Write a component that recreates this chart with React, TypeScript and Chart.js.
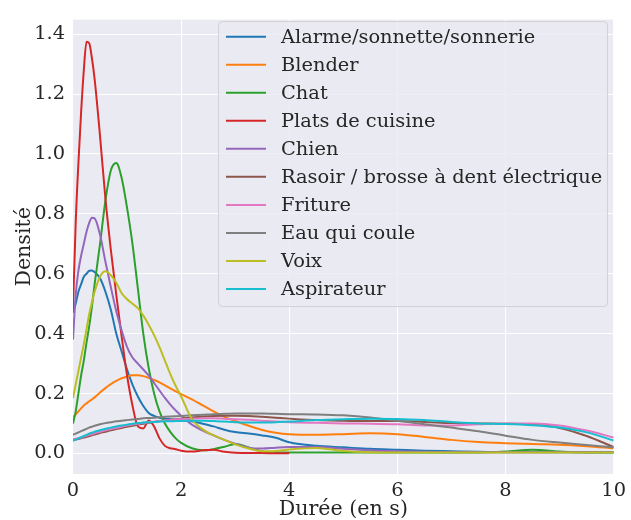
import React, { useEffect, useRef } from "react";
import { Chart, registerables } from "chart.js";

Chart.register(...registerables);

// Durée (s) sample grid shared by every density curve
const durations = [
  0, 0.05, 0.1, 0.15, 0.2, 0.25, 0.3, 0.35, 0.4, 0.5, 0.6, 0.7, 0.8, 0.9, 1.0,
  1.1, 1.2, 1.3, 1.4, 1.5, 1.6, 1.7, 1.8, 1.9, 2.0, 2.2, 2.4, 2.6, 2.8, 3.0,
  3.25, 3.5, 3.75, 4.0, 4.5, 5.0, 5.5, 6.0, 6.5, 7.0, 7.5, 8.0, 8.5, 9.0, 9.5, 10.0,
];

const alarme = [
  0.47, 0.5, 0.54, 0.565, 0.59, 0.6, 0.61, 0.611, 0.605, 0.585, 0.54, 0.48, 0.4,
  0.34, 0.28, 0.23, 0.19, 0.158, 0.135, 0.125, 0.119, 0.116, 0.114, 0.112, 0.11,
  0.107, 0.099, 0.09, 0.079, 0.071, 0.066, 0.06, 0.052, 0.037, 0.025, 0.02, 0.015,
  0.012, 0.009, 0.007, 0.005, 0.004, 0.004, 0.004, 0.004, 0.004,
];
const blender = [
  0.12, 0.13, 0.14, 0.15, 0.16, 0.167, 0.174, 0.18, 0.187, 0.203, 0.218, 0.231,
  0.242, 0.251, 0.257, 0.261, 0.261, 0.258, 0.252, 0.245, 0.237, 0.227, 0.217,
  0.207, 0.198, 0.18, 0.16, 0.14, 0.122, 0.108, 0.092, 0.078, 0.069, 0.064, 0.062,
  0.064, 0.067, 0.064, 0.055, 0.045, 0.038, 0.034, 0.031, 0.029, 0.024, 0.017,
];
const chat = [
  0.1, 0.14, 0.2, 0.26, 0.31, 0.37, 0.425, 0.49, 0.565, 0.7, 0.845, 0.945, 0.97,
  0.92, 0.82, 0.7, 0.55, 0.4, 0.285, 0.2, 0.14, 0.1, 0.072, 0.05, 0.035, 0.017,
  0.01, 0.014, 0.022, 0.031, 0.02, 0.006, 0.003, 0.003, 0.003, 0.003, 0.003,
  0.003, 0.003, 0.003, 0.003, 0.006, 0.012, 0.006, 0.003, 0.003,
];
const plats = [
  0.48, 0.77, 0.97, 1.14, 1.28, 1.375, 1.37, 1.32, 1.25, 1.06, 0.85, 0.68, 0.53,
  0.39, 0.26, 0.16, 0.09, 0.083, 0.11, 0.09, 0.05, 0.025, 0.017, 0.014, 0.009,
  0.006, 0.01, 0.012, 0.005, 0.002, 0.001, 0.001, 0.0, 0.0,
  null, null, null, null, null, null, null, null, null, null, null, null,
];
const chien = [
  0.38, 0.53, 0.61, 0.66, 0.7, 0.74, 0.77, 0.787, 0.785, 0.73, 0.64, 0.555,
  0.475, 0.41, 0.355, 0.32, 0.3, 0.28, 0.26, 0.235, 0.21, 0.185, 0.163, 0.143,
  0.126, 0.096, 0.076, 0.06, 0.045, 0.032, 0.019, 0.016, 0.019, 0.021, 0.021,
  0.015, 0.01, 0.007, 0.005, 0.004, 0.004, 0.004, 0.004, 0.004, 0.004, 0.004,
];
const rasoir = [
  0.044, 0.046, 0.048, 0.05, 0.053, 0.055, 0.058, 0.06, 0.063, 0.068, 0.072,
  0.077, 0.081, 0.085, 0.089, 0.092, 0.096, 0.099, 0.102, 0.105, 0.107, 0.11,
  0.112, 0.114, 0.116, 0.12, 0.123, 0.125, 0.126, 0.126, 0.125, 0.122, 0.119,
  0.116, 0.111, 0.109, 0.108, 0.108, 0.105, 0.101, 0.1, 0.099, 0.096, 0.085,
  0.058, 0.021,
];
const friture = [
  0.047, 0.049, 0.05, 0.053, 0.056, 0.059, 0.062, 0.064, 0.067, 0.072, 0.077,
  0.081, 0.085, 0.089, 0.093, 0.096, 0.099, 0.102, 0.104, 0.106, 0.108, 0.11,
  0.111, 0.113, 0.114, 0.116, 0.117, 0.117, 0.116, 0.114, 0.112, 0.109, 0.106,
  0.104, 0.102, 0.1, 0.099, 0.097, 0.093, 0.093, 0.097, 0.1, 0.1, 0.093, 0.076,
  0.053,
];
const eau = [
  0.062, 0.066, 0.07, 0.074, 0.078, 0.082, 0.086, 0.089, 0.092, 0.097, 0.101,
  0.104, 0.107, 0.109, 0.111, 0.113, 0.115, 0.117, 0.118, 0.119, 0.121, 0.122,
  0.123, 0.124, 0.125, 0.127, 0.129, 0.131, 0.132, 0.133, 0.133, 0.133, 0.132,
  0.131, 0.13, 0.127, 0.12, 0.109, 0.097, 0.086, 0.074, 0.059, 0.045, 0.036,
  0.028, 0.02,
];
const voix = [
  0.185, 0.23, 0.275, 0.32, 0.365, 0.415, 0.465, 0.505, 0.54, 0.59, 0.608, 0.595,
  0.57, 0.535, 0.515, 0.5, 0.485, 0.46, 0.43, 0.395, 0.355, 0.31, 0.265, 0.225,
  0.19, 0.114, 0.08, 0.06, 0.045, 0.03, 0.016, 0.007, 0.008, 0.013, 0.018, 0.008,
  0.004, 0.003, 0.003, 0.003, 0.003, 0.003, 0.003, 0.003, 0.003, 0.003,
];
const aspirateur = [
  0.042, 0.046, 0.05, 0.054, 0.058, 0.062, 0.066, 0.069, 0.072, 0.077, 0.082,
  0.086, 0.09, 0.093, 0.096, 0.099, 0.101, 0.103, 0.104, 0.105, 0.106, 0.107,
  0.107, 0.108, 0.108, 0.109, 0.109, 0.108, 0.106, 0.104, 0.103, 0.103, 0.104,
  0.106, 0.111, 0.114, 0.116, 0.115, 0.111, 0.105, 0.1, 0.098, 0.094, 0.086,
  0.07, 0.043,
];

const seriesLabels = [
  "Alarme/sonnette/sonnerie",
  "Blender",
  "Chat",
  "Plats de cuisine",
  "Chien",
  "Rasoir / brosse à dent électrique",
  "Friture",
  "Eau qui coule",
  "Voix",
  "Aspirateur",
];
const seriesValues = [alarme, blender, chat, plats, chien, rasoir, friture, eau, voix, aspirateur];
const seriesColors = [
  "#1f77b4", "#ff7f0e", "#2ca02c", "#d62728", "#9467bd",
  "#8c564b", "#e377c2", "#7f7f7f", "#bcbd22", "#17becf",
];

const xTicks = [0, 2, 4, 6, 8, 10];
const yTicks = [0, 0.2, 0.4, 0.6, 0.8, 1.0, 1.2, 1.4];

const FONT = "'DejaVu Serif', serif";
const TEXT = "#262626";
const TICK_SIZE = 19.4;
const LABEL_SIZE = 20.6;

const bgPlugin = {
  id: "axesBg",
  beforeDraw(chart: any) {
    const { ctx, chartArea } = chart;
    ctx.save();
    ctx.fillStyle = "#EAEAF2";
    ctx.fillRect(chartArea.left, chartArea.top, chartArea.right - chartArea.left, chartArea.bottom - chartArea.top);
    ctx.restore();
  },
};

const legendPlugin = {
  id: "boxLegend",
  afterDraw(chart: any) {
    const ctx = chart.ctx;
    const x0 = 218.5, y0 = 21.5, w = 389, h = 285, r = 4;
    ctx.save();
    ctx.beginPath();
    ctx.moveTo(x0 + r, y0);
    ctx.lineTo(x0 + w - r, y0);
    ctx.arcTo(x0 + w, y0, x0 + w, y0 + r, r);
    ctx.lineTo(x0 + w, y0 + h - r);
    ctx.arcTo(x0 + w, y0 + h, x0 + w - r, y0 + h, r);
    ctx.lineTo(x0 + r, y0 + h);
    ctx.arcTo(x0, y0 + h, x0, y0 + h - r, r);
    ctx.lineTo(x0, y0 + r);
    ctx.arcTo(x0, y0, x0 + r, y0, r);
    ctx.closePath();
    ctx.fillStyle = "rgba(234,234,242,0.8)";
    ctx.fill();
    ctx.strokeStyle = "rgba(204,204,204,0.8)";
    ctx.lineWidth = 1;
    ctx.stroke();
    ctx.font = `${TICK_SIZE}px ${FONT}`;
    ctx.textBaseline = "middle";
    ctx.textAlign = "left";
    chart.data.datasets.forEach((ds: any, i: number) => {
      const y = 36.7 + i * 28.03;
      ctx.beginPath();
      ctx.strokeStyle = ds.borderColor;
      ctx.lineWidth = 2;
      ctx.moveTo(226, y);
      ctx.lineTo(266, y);
      ctx.stroke();
      ctx.fillStyle = TEXT;
      ctx.fillText(ds.label, 281, y + 1);
    });
    ctx.restore();
  },
};

export default function App() {
  const ref = useRef<HTMLCanvasElement | null>(null);
  useEffect(() => {
    if (!ref.current) return;
    const datasets = seriesLabels.map((label, i) => ({
      label,
      data: durations
        .map((x, j) => ({ x, y: seriesValues[i][j] }))
        .filter((p) => p.y !== null && p.y !== undefined),
      borderColor: seriesColors[i],
      backgroundColor: seriesColors[i],
      borderWidth: 2,
      pointRadius: 0,
      fill: false,
      cubicInterpolationMode: "monotone" as const,
      order: seriesLabels.length - i,
    }));
    const chart = new Chart(ref.current, {
      type: "line",
      data: { datasets },
      options: {
        animation: false,
        responsive: false,
        devicePixelRatio: 1,
        layout: { padding: { left: 0, right: 14, top: 11, bottom: 0 } },
        plugins: { legend: { display: false }, tooltip: { enabled: false } },
        scales: {
          x: {
            type: "linear",
            min: 0,
            max: 10,
            afterBuildTicks: (s: any) => {
              s.ticks = xTicks.map((v) => ({ value: v }));
            },
            afterFit: (s: any) => {
              s.height = 46;
            },
            ticks: {
              font: { family: FONT, size: TICK_SIZE },
              color: TEXT,
              padding: 5,
              callback: (v: any) => String(v),
            },
            grid: { color: "#ffffff", lineWidth: 1.1, drawTicks: false },
            border: { display: false },
            title: {
              display: true,
              text: "Durée (en s)",
              font: { family: FONT, size: LABEL_SIZE },
              color: TEXT,
              padding: { top: 0, bottom: -2 },
            },
          },
          y: {
            type: "linear",
            min: -0.069,
            max: 1.449,
            afterBuildTicks: (s: any) => {
              s.ticks = yTicks.map((v) => ({ value: v }));
            },
            afterFit: (s: any) => {
              s.width = 73;
            },
            ticks: {
              font: { family: FONT, size: TICK_SIZE },
              color: TEXT,
              padding: 8,
              callback: (v: any) => Number(v).toFixed(1),
            },
            grid: { color: "#ffffff", lineWidth: 1.1, drawTicks: false },
            border: { display: false },
            title: {
              display: true,
              text: "Densité",
              font: { family: FONT, size: LABEL_SIZE },
              color: TEXT,
              padding: { top: 12, bottom: 0 },
            },
          },
        },
      },
      plugins: [bgPlugin, legendPlugin],
    });
    return () => chart.destroy();
  }, []);
  return (
    <div style={{ position: "absolute", left: 0, top: 0, width: 631, height: 520 }}>
      <canvas ref={ref} width={631} height={520} />
    </div>
  );
}
